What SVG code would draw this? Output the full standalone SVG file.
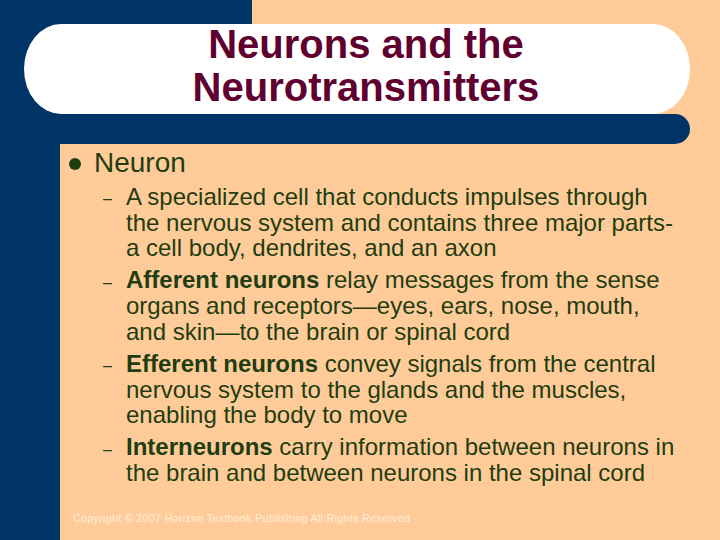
<svg xmlns="http://www.w3.org/2000/svg" width="720" height="540" viewBox="0 0 720 540">
<style>
text{font-family:"Liberation Sans",Arial,sans-serif}
.t{font-size:40px;font-weight:bold;fill:#5f0030;text-anchor:middle}
.b{font-size:28px;fill:#1f3d10}
.s{font-size:24px;fill:#1f3d10}
.d{font-size:16px;fill:#1f3d10}
.c{font-size:10.5px;fill:#fff0dc}
</style>
<rect width="720" height="540" fill="#ffcc99"/>
<rect x="0" y="0" width="252" height="144" fill="#003366"/>
<rect x="0" y="0" width="60" height="540" fill="#003366"/>
<rect x="60" y="114" width="630" height="30" rx="15" fill="#003366"/>
<rect x="24" y="24" width="666" height="90" rx="37" ry="45" fill="#ffffff"/>
<text class="t" x="366" y="58">Neurons and the</text>
<text class="t" x="366" y="101">Neurotransmitters</text>
<circle cx="75" cy="164" r="6" fill="#1f3d10"/>
<text class="b" x="94" y="172">Neuron</text>
<g class="s">
<text class="d" x="103" y="204">–</text>
<text class="s" x="126" y="205">A specialized cell that conducts impulses through</text>
<text class="s" x="126" y="231">the nervous system and contains three major parts-</text>
<text class="s" x="126" y="256">a cell body, dendrites, and an axon</text>
<text class="d" x="103" y="288">–</text>
<text class="s" x="126" y="288"><tspan font-weight="bold">Afferent neurons</tspan> relay messages from the sense</text>
<text class="s" x="126" y="314">organs and receptors—eyes, ears, nose, mouth,</text>
<text class="s" x="126" y="340">and skin—to the brain or spinal cord</text>
<text class="d" x="103" y="371">–</text>
<text class="s" x="126" y="372"><tspan font-weight="bold">Efferent neurons</tspan> convey signals from the central</text>
<text class="s" x="126" y="398">nervous system to the glands and the muscles,</text>
<text class="s" x="126" y="423">enabling the body to move</text>
<text class="d" x="103" y="455">–</text>
<text class="s" x="126" y="455"><tspan font-weight="bold">Interneurons</tspan> carry information between neurons in</text>
<text class="s" x="126" y="481">the brain and between neurons in the spinal cord</text>
</g>
<text class="c" x="73" y="522" textLength="337">Copyright © 2007 Horizon Textbook Publishing All Rights Reserved</text>
</svg>
